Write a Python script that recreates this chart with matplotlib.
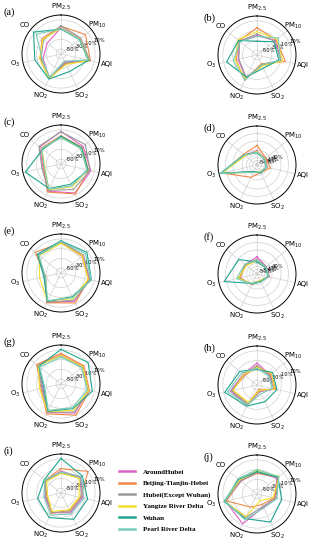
import numpy as np
import matplotlib.pyplot as plt

# axes of every radar, clockwise from the top
labels = [r'PM$_{2.5}$', r'PM$_{10}$', 'AQI', r'SO$_2$', r'NO$_2$', r'O$_3$', 'CO']
regions = ['AroundHubei', 'Beijing-Tianjin-Hebei', 'Hubei(Except Wuhan)',
           'Yangtze River Delta', 'Wuhan', 'Pearl River Delta']
colors = ['#e060c8', '#f08848', '#9a9a9a', '#f2e030', '#1fa58e', '#78cdb8']

# percent change, one row per region, columns follow `labels`
a = [[-6, -10, 0, -42, -5, -22, -24],
     [-3, 4, 2, -38, -4, -16, -10],
     [-2, -8, 1, -40, -6, -18, -14],
     [-7, -11, -1, -36, -5, -15, -12],
     [-9, -12, -2, -20, -3, -5, 12],
     [-8, -12, -3, -44, -6, -20, 5]]
b = [[-20, -12, -9, -38, -8, -20, -15],
     [-4, -10, 0, -40, -2, -16, -13],
     [-17, -14, -10, -36, -9, -22, -14],
     [-12, -8, -6, -35, -5, -14, -10],
     [-32, -16, -14, -30, -10, 4, -12],
     [-22, -4, -11, -38, -3, -10, -16]]
c = [[7, -2, 3, 6, 2, -22, -4],
     [-2, -5, -2, 8, 4, -24, -8],
     [6, 4, 1, -2, 0, -20, -2],
     [-5, -8, -4, -8, -2, -26, -10],
     [-3, -6, -3, -14, -4, 15, -12],
     [-6, -9, -5, -10, -3, -25, -9]]
d = [[35, 8, 10, -10, -8, 185, 45],
     [70, 15, 31, -5, 31, 180, 55],
     [28, 5, 5, -8, -10, 182, 42],
     [30, 6, 8, -12, -5, 178, 40],
     [22, 2, 4, 0, -12, 190, 50],
     [25, 4, 6, -8, -6, 186, 48]]
e = [[3, -3, 0, 4, 7, -26, 0],
     [2, -5, -2, 8, 8, -28, 8],
     [4, -1, 1, 2, 6, -25, -1],
     [1, -4, -3, -2, 4, -15, -3],
     [6, 8, 4, -6, 5, -24, 2],
     [5, 4, 3, -4, 3, -27, -2]]
f = [[55, 20, 25, -10, 15, 60, 40],
     [35, 15, 20, -5, 20, 55, 35],
     [38, 18, 22, -8, 18, 65, 38],
     [30, 12, 18, -12, 12, 70, 30],
     [20, 10, 15, -5, 10, 165, 95],
     [30, 15, 18, 0, 15, 80, 45]]
g = [[0, -2, -2, 6, 5, -22, 2],
     [3, 0, 0, 11, 8, -18, 4],
     [-2, -4, -3, 4, 4, -20, 1],
     [-1, -3, -2, 0, 3, -15, 0],
     [11, 11, 6, -4, 2, -24, -2],
     [-5, -6, -5, -6, 0, -26, -4]]
h = [[-15, -26, -22, -45, -14, -4, -24],
     [-22, -24, -20, -50, -18, -8, -28],
     [-20, -28, -25, -46, -16, -6, -26],
     [-24, -22, -23, -48, -20, -10, -25],
     [-28, -19, -18, -22, -12, 8, -15],
     [-26, -30, -28, -40, -15, 2, -20]]
i_ = [[-15, -8, -15, -15, -15, -26, -19],
      [-10, 11, -19, -20, -14, -30, -18],
      [-18, -10, -17, -17, -16, -28, -20],
      [-20, -12, -22, -22, -18, -32, -22],
      [11, -4, -4, 0, -4, -11, -16],
      [-17, -6, -12, -12, -10, -24, -17]]
j = [[-15, -8, -22, -30, 8, 6, -18],
     [-18, -4, -24, -36, -30, 4, -16],
     [-16, -6, -20, -32, -6, 7, -17],
     [-12, -2, -26, -45, -8, 8, -14],
     [-14, -5, -8, 4, -4, 9, -12],
     [-10, -3, -18, -28, -2, 7, -10]]

panels = [('(a)', a), ('(b)', b), ('(c)', c), ('(d)', d), ('(e)', e),
          ('(f)', f), ('(g)', g), ('(h)', h), ('(i)', i_), ('(j)', j)]
wide = ['(d)', '(f)']   # panels drawn on a larger radial scale

fig = plt.figure(figsize=(3.23, 5.5), dpi=100)
angles = np.linspace(0, 2 * np.pi, len(labels), endpoint=False)
loop = np.concatenate([angles, angles[:1]])

W, H = 323, 550
rad = 39
centers_x = [61, 257]
centers_y = [54, 164, 273, 384, 493]

for k, (name, vals) in enumerate(panels):
    left = k % 2 == 0
    cx = centers_x[k % 2]
    cy = centers_y[k // 2] + (0 if left else 1)
    ax = fig.add_axes([(cx - rad) / W, 1 - (cy + rad) / H, 2 * rad / W, 2 * rad / H],
                      projection='polar')
    ax.set_theta_offset(np.pi / 2)
    ax.set_theta_direction(-1)
    for row, col in zip(vals, colors):
        ax.plot(loop, row + row[:1], color=col, lw=0.8)
    if name in wide:
        ax.set_ylim(-60, 200)
        ax.set_yticks([-50, -30, -10, 10, 40, 100, 150])
        ax.set_yticklabels(['-50%', '-30%', '-10%', '10%', '40%', '', ''])
    else:
        ax.set_ylim(-60, 20)
        ax.set_yticks([-50, -30, -10, 10])
        ax.set_yticklabels(['-50%', '-30%', '-10%', '10%'])
    ax.set_rlabel_position(72)
    ax.set_thetagrids(np.degrees(angles), labels)
    ax.tick_params(axis='x', labelsize=5, pad=-5)
    ax.tick_params(axis='y', labelsize=3.8, pad=0)
    ax.grid(color='#d0d0d0', lw=0.5)
    ax.spines['polar'].set_linewidth(0.7)
    if left:
        fig.text(3 / W, 1 - (cy - 42) / H, name, fontsize=7.5,
                 family='Liberation Serif', va='center', ha='left')
    else:
        fig.text(204 / W, 1 - (cy - 37) / H, name, fontsize=7.5,
                 family='Liberation Serif', va='center', ha='left')

handles = [plt.Line2D([], [], color=col, lw=1.8) for col in colors]
fig.legend(handles, regions, loc='upper left', bbox_to_anchor=(119 / W, 1 - 469 / H),
           frameon=False, prop={'family': 'Liberation Serif', 'weight': 'bold', 'size': 5},
           handlelength=2.3, handletextpad=1.1, labelspacing=0.8, borderpad=0,
           borderaxespad=0)

fig.savefig('out.png', dpi=100)
